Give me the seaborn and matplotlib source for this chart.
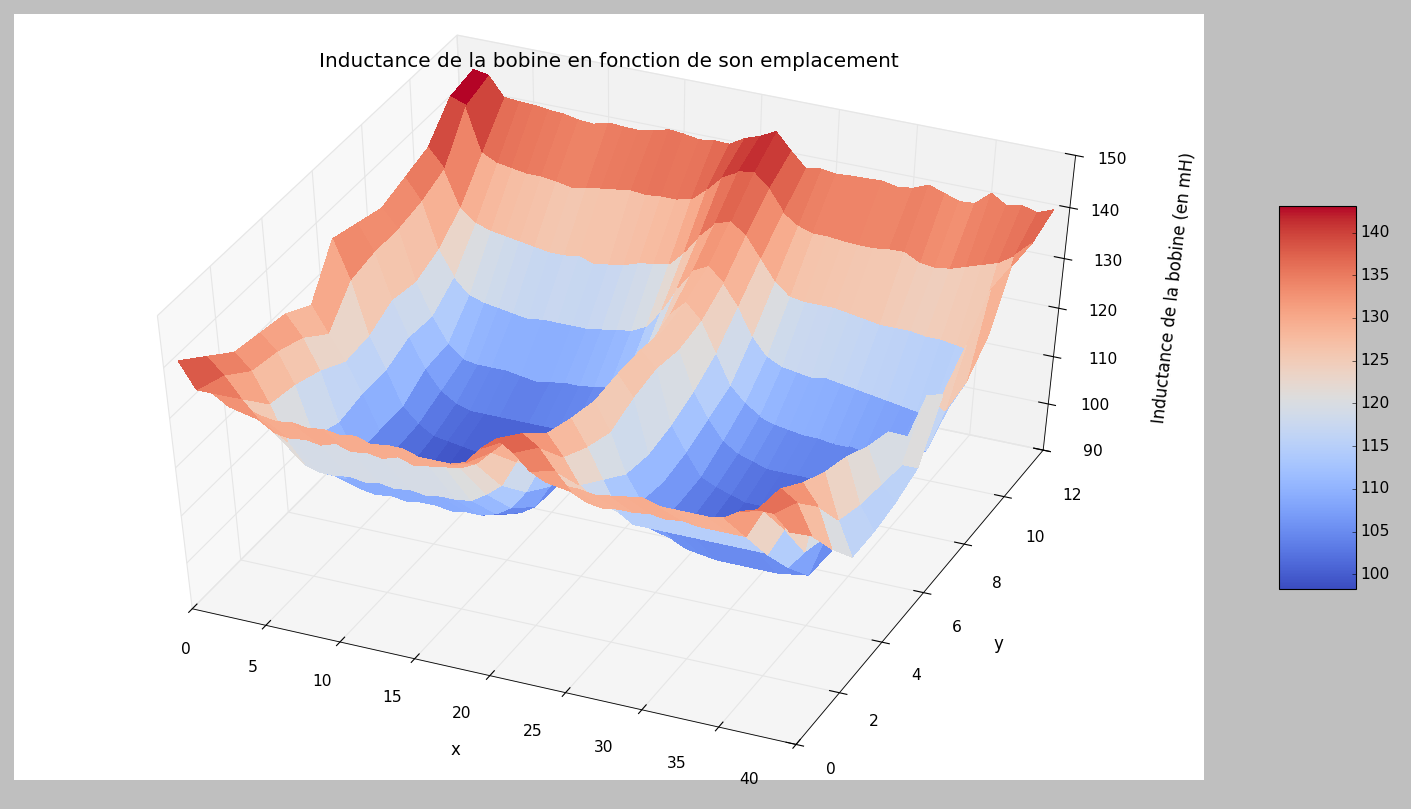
import numpy as np
import matplotlib
matplotlib.use("Agg")
import matplotlib.pyplot as plt
import seaborn as sns

# Inductance (mH), one list per y position
x_values = list(range(1, 40))
y_values = list(range(0, 13))

row_y0 = [142, 137, 137, 135, 135.5, 134.5, 134, 134.5, 134, 134.5, 134, 134.5, 133.5, 134, 134, 133, 133, 133, 134, 137.5, 140, 138, 135, 133.5, 133.5, 133.5, 133, 133.5, 134, 134.5, 133.5, 133.5, 133.5, 133.5, 134, 136, 137, 137, 134]
row_y1 = [138, 135, 131, 127.5, 125.5, 125, 125.5, 125, 126, 125, 125.5, 125, 126, 125, 125.5, 126, 126.5, 128, 131, 134, 136, 134, 130, 126.5, 125, 124.5, 125, 125, 125.5, 125, 125.5, 125, 125, 125, 125, 131, 136, 134, 128]
row_y2 = [134, 131, 125, 118, 114, 113, 113, 113.5, 113, 113.5, 113, 113.5, 113, 113.5, 113.5, 114, 116, 118.5, 124, 128, 131, 127, 122, 119.5, 119.5, 119.5, 119.5, 119.5, 119.5, 119.5, 119.5, 119.5, 119.5, 119.5, 116, 122, 132, 128, 120]
row_y3 = [133, 130, 124, 114, 109.5, 106.5, 105, 104.5, 105, 104.5, 105, 105, 104.5, 105, 105, 106, 108, 112, 118, 124, 129, 124, 118, 112, 110, 110, 110, 110, 110, 110, 110, 110, 110, 110, 108, 112, 129, 120, 113]
row_y4 = [132, 128, 122, 112, 106, 103, 100.5, 99.5, 99, 99, 99, 99, 99.5, 99.5, 100, 101, 103, 108, 114, 121, 127.5, 122, 114, 109, 105, 102.5, 101, 100.5, 100, 100, 100, 100, 100, 100.5, 101, 110, 127, 118, 113]
row_y5 = [129, 124, 119, 113, 106, 102.5, 100, 99, 98.5, 98.5, 98.5, 98.5, 98.5, 99, 99.5, 100.5, 102.5, 106.5, 112, 122, 128, 124, 113, 108, 104, 102, 101, 100, 100, 99.5, 99.5, 99.5, 99.5, 100, 100.5, 109, 124, 117, 114]
row_y6 = [137.5, 130, 119.5, 113, 106, 103, 101, 100.5, 100, 99.5, 99.5, 99.5, 99.5, 100, 100, 101, 103, 107, 113, 123, 128, 125, 114, 109, 104.5, 103, 102, 101, 101, 100.5, 100.5, 100.5, 100.5, 100.5, 101, 107, 122, 116, 116]
row_y7 = [136, 131, 122, 115, 109, 105, 103, 102, 102, 102, 102, 102, 102, 102, 102.5, 103, 105, 109, 115, 123, 127, 124, 116, 111, 107, 105, 104, 103, 103, 103, 103, 103, 103, 103, 103.5, 106, 116, 125, 126]
row_y8 = [134.5, 131, 121, 114.5, 109.5, 107, 106.5, 106.5, 106.5, 106, 105.5, 106, 106.5, 106.5, 107, 107.5, 109, 113, 119, 125, 128, 125, 119, 113, 110, 108, 107, 106.5, 106, 106, 105.5, 105.5, 105, 105, 105, 106, 108, 117, 131]
row_y9 = [136, 132, 123, 118, 115, 114, 113.5, 113, 112.5, 113, 113, 113, 113, 113.5, 114, 114.5, 116, 120, 125, 129, 130.5, 128, 124, 118.5, 115, 113.5, 113, 112.5, 113, 112.5, 112, 111.5, 111, 110.5, 110, 110.5, 112, 118, 137]
row_y10 = [137.5, 134, 127, 124.5, 123.5, 123, 122.5, 122, 121.5, 121.5, 122, 121, 121.5, 122, 123, 123.5, 124, 127, 131, 134, 135, 133, 129, 125, 122.5, 122, 122, 122, 121.5, 121, 120.5, 120.5, 120.5, 120, 120, 119.5, 119, 123, 137]
row_y11 = [143, 142, 133.5, 132, 131.5, 131, 131, 130.6, 130, 130.5, 131, 131.4, 131.8, 131.5, 131.8, 131.8, 132.5, 135, 138, 139.5, 140, 137.5, 133.5, 131.5, 130.5, 130.5, 130.2, 130, 130, 130.4, 130.5, 129, 128.6, 129, 130, 131, 132, 134, 137]
row_y12 = [144, 143.5, 139.8, 139.5, 139.4, 139, 138.8, 138.2, 138, 138.8, 138.6, 138.5, 139, 139.8, 139.5, 139, 139.4, 139.3, 141, 142, 143.5, 140.4, 137.6, 138, 137.6, 137.8, 137.9, 138, 137.4, 137.8, 139, 138, 137, 137.2, 139.8, 138, 138.6, 137.8, 139]

x_ticks = [0, 5, 10, 15, 20, 25, 30, 35, 40]
y_ticks = [0, 2, 4, 6, 8, 10, 12]
z_ticks = [90, 100, 110, 120, 130, 140, 150]
cbar_ticks = [100, 105, 110, 115, 120, 125, 130, 135, 140]

# where the tick labels sit in the picture (pixels)
x_label_px = [186, 253, 322, 392, 462, 533, 604, 677, 749]
x_label_py = [650, 667, 682, 698, 714, 731, 747, 763, 780]
y_label_px = [831, 874, 916, 957, 997, 1035, 1072]
y_label_py = [769, 722, 675, 628, 583, 538, 495]
z_label_px = [1093, 1095, 1103, 1103, 1108, 1105, 1112]
z_label_py = [452, 406, 360, 311, 262, 212, 160]

# Old looking matplotlib defaults, window was maximised at 80 dpi
plt.style.use("classic")
plt.rcParams["grid.color"] = "#e6e6e6"
plt.rcParams["grid.linestyle"] = "-"
plt.rcParams["grid.linewidth"] = 1.0

Z = np.array([row_y0, row_y1, row_y2, row_y3, row_y4, row_y5, row_y6,
              row_y7, row_y8, row_y9, row_y10, row_y11, row_y12])
X, Y = np.meshgrid(x_values, y_values)

W, H = 1411, 809
fig = plt.figure(figsize=(W / 80, H / 80), dpi=80, facecolor="#bfbfbf")
ax = fig.add_axes([14 / W, 29 / H, 1190 / W, 766 / H], projection="3d")
ax.apply_aspect = lambda position=None: None  # keep the stretched cube
ax.set_box_aspect((1, 1, 1), zoom=0.945)
ax.view_init(elev=47, azim=-66)

cmap = sns.color_palette("coolwarm", as_cmap=True)
surf = ax.plot_surface(X, Y, Z, rstride=1, cstride=1, cmap=cmap, linewidth=0,
                       antialiased=False, vmin=98.3, vmax=143.1)

ax.set_xlim(0, 40, view_margin=0)
ax.set_ylim(0, 12, view_margin=0)
ax.set_zlim(90, 150, view_margin=0)
ax.set_xticks(x_ticks)
ax.set_yticks(y_ticks)
ax.set_zticks(z_ticks)
ax.set_xticklabels([])
ax.set_yticklabels([])
ax.set_zticklabels([])
for axis in (ax.xaxis, ax.yaxis, ax.zaxis):
    axis._axinfo["tick"]["inward_factor"] = 0.15
    axis._axinfo["tick"]["outward_factor"] = 0.2

# the old tick labels do not follow the axis evenly, so they are placed by hand
for ticks, pxs, pys in [(x_ticks, x_label_px, x_label_py),
                        (y_ticks, y_label_px, y_label_py),
                        (z_ticks, z_label_px, z_label_py)]:
    for t, px, py in zip(ticks, pxs, pys):
        fig.text(px / W, 1 - py / H, str(t), fontsize=14, ha="center", va="center")

ax.set_xlabel("x", fontsize=15, labelpad=38)
ax.set_ylabel("y", fontsize=15, labelpad=38)
ax.set_zlabel("Inductance de la bobine (en mH)", fontsize=15, labelpad=41)
ax.set_title("Inductance de la bobine en fonction de son emplacement", y=1.004, fontsize=18)

cax = fig.add_axes([1279 / W, 220 / H, 77 / W, 383 / H])
cbar = fig.colorbar(surf, cax=cax, ticks=cbar_ticks)
cbar.ax.tick_params(labelsize=14)

fig.savefig("out.png", dpi=80, facecolor=fig.get_facecolor())
